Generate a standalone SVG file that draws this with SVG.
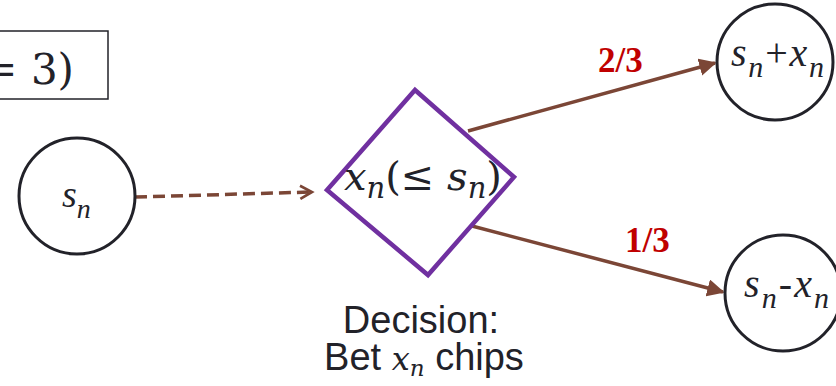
<svg xmlns="http://www.w3.org/2000/svg" width="836" height="386" viewBox="0 0 836 386">
<defs>
<style>
.node{fill:#fff;stroke:#222229;stroke-width:3}
.math{font-family:"Liberation Serif","DejaVu Serif",serif;fill:#222229}
.cm{font-family:"DejaVu Serif","Liberation Serif",serif;fill:#222229}
.it{font-style:italic}
.edge{stroke:#7B4636;stroke-width:3.5;fill:none}
.prob{font-family:"Liberation Serif",serif;font-weight:bold;fill:#C00000;font-size:35px}
.lbl{font-family:"Liberation Sans",Arial,sans-serif;fill:#222229;font-size:38px}
</style>
<marker id="arr" viewBox="0 0 10 10" refX="9" refY="5" markerWidth="5" markerHeight="5" orient="auto" markerUnits="strokeWidth">
<path d="M0,0 L10,5 L0,10 z" fill="#7B4636"/>
</marker>
<marker id="chev" viewBox="0 0 12 12" refX="10" refY="6" markerWidth="4.5" markerHeight="4.5" orient="auto" markerUnits="strokeWidth">
<path d="M1,1 L10,6 L1,11" fill="none" stroke="#7B4636" stroke-width="2"/>
</marker>
</defs>
<rect width="836" height="386" fill="#fff"/>
<g id="constraint-box">
<rect x="-10" y="31" width="118" height="68" fill="#fff" stroke="#222229" stroke-width="1.5"/>
<text class="cm" x="74" y="84" font-size="42" text-anchor="end">= 3)</text>
</g>
<g id="connectors">
<path class="edge" d="M135,197 L312,192" stroke-width="4" stroke-dasharray="12,6" marker-end="url(#chev)"/>
<path class="edge" d="M468,131 L715,63" marker-end="url(#arr)"/>
<path class="edge" d="M472,226 L723,292" marker-end="url(#arr)"/>
<text class="prob" x="598" y="72">2/3</text>
<text class="prob" x="625" y="252">1/3</text>
</g>
<g id="node-sn">
<circle class="node" cx="77" cy="196" r="58"/>
<text class="math it" x="62" y="207" font-size="38">s<tspan font-size="28" dy="11">n</tspan></text>
</g>
<g id="node-decision">
<path d="M415,90 L514,177 L428,275 L327,190 Z" fill="#fff" stroke="#7030A0" stroke-width="4.5" stroke-linejoin="miter"/>
<text class="cm" x="344" y="190" font-size="40"><tspan class="it">x</tspan><tspan class="it" font-size="29" dy="8">n</tspan><tspan dy="-8">(≤ </tspan><tspan class="it">s</tspan><tspan class="it" font-size="29" dy="8">n</tspan><tspan dy="-8">)</tspan></text>
</g>
<g id="node-win">
<circle class="node" cx="775" cy="62" r="58"/>
<text class="math" x="731" y="66" font-size="40" textLength="93" lengthAdjust="spacing"><tspan class="it">s</tspan><tspan class="it" font-size="30" dy="11">n</tspan><tspan dy="-11">+</tspan><tspan class="it">x</tspan><tspan class="it" font-size="30" dy="11">n</tspan></text>
</g>
<g id="node-lose">
<circle class="node" cx="783" cy="293" r="58"/>
<text class="math" x="744" y="297" font-size="40" textLength="85" lengthAdjust="spacing"><tspan class="it">s</tspan><tspan class="it" font-size="30" dy="11">n</tspan><tspan dy="-11">-</tspan><tspan class="it">x</tspan><tspan class="it" font-size="30" dy="11">n</tspan></text>
</g>
<g id="decision-label">
<text class="lbl" x="421" y="333" text-anchor="middle">Decision:</text>
<text class="lbl" x="424" y="370" text-anchor="middle">Bet <tspan class="cm it" font-size="32">x</tspan><tspan class="cm it" font-size="23" dy="6">n</tspan><tspan dy="-6"> chips</tspan></text>
</g>
</svg>
